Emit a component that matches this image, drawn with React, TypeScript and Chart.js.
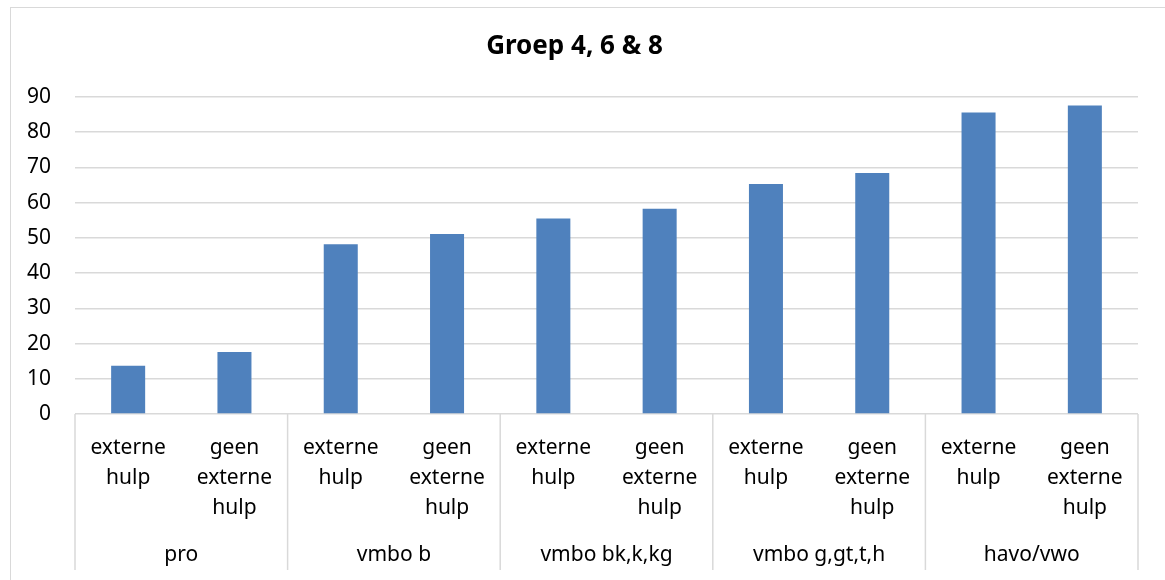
import React, { useEffect, useRef } from "react";
import { Chart, registerables } from "chart.js";

Chart.register(...registerables);

const title = "Groep 4, 6 & 8";
const subLabels: string[][] = [
  ["externe", "hulp"],
  ["geen", "externe", "hulp"],
  ["externe", "hulp"],
  ["geen", "externe", "hulp"],
  ["externe", "hulp"],
  ["geen", "externe", "hulp"],
  ["externe", "hulp"],
  ["geen", "externe", "hulp"],
  ["externe", "hulp"],
  ["geen", "externe", "hulp"],
];
const groupLabels = ["pro", "vmbo b", "vmbo bk,k,kg", "vmbo g,gt,t,h", "havo/vwo"];
const values = [13.7, 17.6, 48.2, 51.1, 55.5, 58.3, 65.3, 68.4, 85.6, 87.6];
const yTicks = [0, 10, 20, 30, 40, 50, 60, 70, 80, 90];

const FONT = "'Noto Sans', sans-serif";

export default function App() {
  const ref = useRef<HTMLCanvasElement | null>(null);

  useEffect(() => {
    document.body.style.margin = "0";
    const canvas = ref.current;
    if (!canvas) return;

    const dividers = {
      id: "dividers",
      afterDraw(chart: any) {
        const x = chart.scales.x;
        const x2 = chart.scales.x2;
        const ctx = chart.ctx;
        const n = subLabels.length;
        const half = (x.getPixelForValue(1) - x.getPixelForValue(0)) / 2;
        ctx.save();
        ctx.strokeStyle = "#d9d9d9";
        ctx.lineWidth = 1.5;
        for (let i = 0; i <= n; i += 2) {
          const px = i < n ? x.getPixelForValue(i) - half : x.getPixelForValue(n - 1) + half;
          ctx.beginPath();
          ctx.moveTo(px, chart.chartArea.bottom);
          ctx.lineTo(px, x2.bottom - 2);
          ctx.stroke();
        }
        ctx.restore();
      },
    };

    const chart = new Chart(canvas, {
      type: "bar",
      data: {
        labels: subLabels as any,
        datasets: [
          {
            data: values,
            backgroundColor: "#4f81bd",
            borderColor: "#4f81bd",
            borderWidth: 0,
            barPercentage: 0.32,
            categoryPercentage: 1,
            xAxisID: "x",
          },
        ],
      },
      options: {
        animation: false,
        responsive: false,
        maintainAspectRatio: false,
        layout: { padding: { left: 0, right: 27, top: 0, bottom: 8 } },
        plugins: {
          legend: { display: false },
          tooltip: { enabled: false },
          title: {
            display: true,
            text: title,
            color: "#000",
            font: { family: FONT, size: 26, weight: "bold", lineHeight: 1.2 },
            padding: { top: 23.4, bottom: 34.4 },
          },
        },
        scales: {
          y: {
            min: 0,
            max: 90,
            afterBuildTicks: (s: any) => {
              s.ticks = yTicks.map((v) => ({ value: v }));
            },
            afterFit: (s: any) => {
              s.width = 64;
            },
            ticks: {
              color: "#000",
              padding: 24,
              font: { family: FONT, size: 21 },
            },
            grid: { color: "#d9d9d9", lineWidth: 1.5, drawTicks: false },
            border: { display: false },
          },
          x: {
            type: "category",
            position: "bottom",
            afterFit: (s: any) => {
              s.height = 108;
            },
            ticks: {
              color: "#000",
              padding: 19,
              autoSkip: false,
              maxRotation: 0,
              minRotation: 0,
              font: { family: FONT, size: 21, lineHeight: 30 / 21 },
            },
            grid: { display: false, drawTicks: false },
            border: { display: false },
          },
          x2: {
            type: "category",
            position: "bottom",
            labels: groupLabels,
            offset: true,
            afterFit: (s: any) => {
              s.height = 50;
            },
            ticks: {
              color: "#000",
              padding: 18,
              autoSkip: false,
              maxRotation: 0,
              minRotation: 0,
              font: { family: FONT, size: 21, lineHeight: 30 / 21 },
            },
            grid: { display: false, drawTicks: false },
            border: { display: false },
          },
        },
      } as any,
      plugins: [dividers],
    });
    return () => chart.destroy();
  }, []);

  return (
    <div
      style={{
        position: "absolute",
        left: 10,
        top: 7,
        width: 1155,
        height: 573,
        borderLeft: "1.5px solid #d9d9d9",
        borderTop: "1.5px solid #d9d9d9",
        background: "#fff",
      }}
    >
      <canvas ref={ref} width={1154} height={572} style={{ display: "block" }} />
    </div>
  );
}
